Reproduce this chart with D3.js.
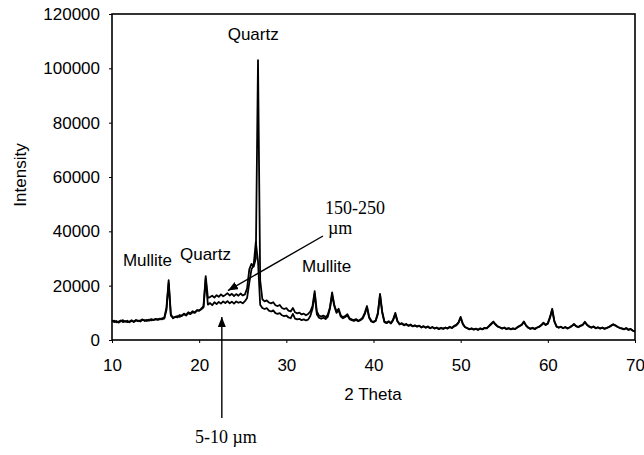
<!DOCTYPE html>
<html lang="en">
  <head>
    <meta charset="utf-8"/>
    <script src="https://cdn.jsdelivr.net/npm/d3@7"></script>
    <style>
      body { margin: 0; background: #fff; }
      .sans { font-family: "Liberation Sans", Arial, sans-serif; font-size: 17px; fill: #000; }
      .serif { font-family: "Liberation Serif", "Times New Roman", serif; font-size: 18px; fill: #000; }
      .axis path { display: none; }
      .axis line { stroke: #000; stroke-width: 1; }
      .axis text { font-family: "Liberation Sans", Arial, sans-serif; font-size: 17px; fill: #000; }
    </style>
  </head>
  <body>
    <script>
      // diffractogram, one value every 0.25 deg 2-theta from 10 to 70
      var thetaStart = 10;
      var thetaStep = 0.25;

      // 150-250 um particles (one row = one degree)
      var coarse = [
        7200, 6600, 7000, 6400,
        6900, 7300, 6700, 7100,
        6500, 7000, 6800, 7400,
        6900, 7200, 7600, 7000,
        7400, 7100, 7700, 7300,
        7800, 7400, 7900, 7600,
        8200, 12000, 22000, 9500,
        8000, 8600, 8300, 9200,
        8800, 9700, 9300, 10200,
        9800, 10600, 10200, 11000,
        10700, 11600, 12500, 23500,
        15500, 15800, 16300, 15600,
        16500, 15900, 16800, 16100,
        16600, 17200, 16400, 17000,
        16200, 16900, 16300, 17100,
        16400, 16800, 19000, 26000,
        28000, 27000, 30000, 103000,
        22000, 15000, 14200, 14600,
        13800, 13500, 13900, 12800,
        12500, 12900, 11800, 11400,
        11700, 10800, 10500, 11800,
        10200, 9800, 10100, 9400,
        9700, 9100, 9600, 10500,
        12500, 18000, 10500, 9000,
        8600, 9000, 8400, 9300,
        12000, 17500, 13000, 10500,
        11500, 9000, 8400, 8800,
        9500, 8000, 7600, 7300,
        7700, 7100, 7500, 8200,
        10000, 12500, 8500, 7000,
        6700, 7200, 10000, 17000,
        10500, 6800, 6400, 6900,
        6300, 7500, 10000, 7000,
        5900, 6200, 5600, 5900,
        5300, 5700, 5100, 5400,
        5000, 5300, 4700, 5100,
        4600, 5000, 4400, 4800,
        4300, 4600, 4100, 4500,
        4200, 4600, 4300, 4900,
        4500, 5200, 5600, 6500,
        8500, 6000, 4800, 4400,
        4000, 4300, 3900, 4200,
        3800, 4300, 4000, 4500,
        4400, 5200, 6000, 6800,
        5800, 5000, 4700, 4300,
        4600, 4100, 4400, 4000,
        4300, 4100, 4700, 5200,
        5600, 6800, 5400, 4600,
        4200, 4500, 4100, 4600,
        4900, 5500, 6400, 5600,
        6200, 8500, 11500, 7000,
        5000, 4600, 4900, 4400,
        4800, 4300, 4700, 5200,
        5900, 5100, 4800, 5300,
        5600, 6700, 5600, 5000,
        4600, 5000, 4400, 4700,
        4300, 4600, 4200, 4500,
        4800, 5300, 5800, 5400,
        4900, 4500, 4300, 4000,
        4400, 3800, 4100, 3500,
        3200
      ];

      // 5-10 um particles
      var fine = [
        6900, 7100, 6500, 6800,
        7200, 6600, 7000, 6600,
        6800, 7300, 6600, 7200,
        7100, 6800, 7400, 7300,
        7000, 7500, 7200, 7500,
        7500, 7700, 7600, 8000,
        7900, 11000, 21000, 9000,
        8200, 8400, 8800, 8500,
        9100, 9400, 9000, 9900,
        9500, 10300, 10000, 10800,
        11000, 11300, 12000, 22500,
        13000, 13600, 12800, 13900,
        13200, 14000, 13400, 14200,
        13600, 14300, 13500, 14100,
        13400, 14200, 13700, 14000,
        13500, 14300, 15500, 21000,
        26000, 27500, 36000, 29000,
        13000, 11800, 11400, 11700,
        10800, 10500, 10900, 9900,
        9600, 9900, 9100, 8800,
        9000, 8300, 8000, 9600,
        7900, 7600, 7800, 7300,
        7600, 7200, 7500, 8800,
        11500, 17000, 9500, 8200,
        7800, 8200, 7700, 8500,
        11500, 16500, 12500, 10000,
        11000, 8600, 8000, 8500,
        9000, 7700, 7300, 7000,
        7400, 6900, 7300, 7900,
        9500, 12000, 8200, 6800,
        6500, 7000, 9500, 16500,
        10000, 6600, 6200, 6700,
        6100, 7300, 9500, 6800,
        5700, 6000, 5400, 5800,
        5200, 5500, 5000, 5300,
        4900, 5200, 4600, 5000,
        4500, 4800, 4300, 4700,
        4200, 4500, 4000, 4400,
        4100, 4500, 4200, 4700,
        4400, 5000, 5400, 6300,
        8200, 5800, 4700, 4300,
        3900, 4200, 3800, 4100,
        3700, 4200, 3900, 4400,
        4300, 5000, 5800, 6600,
        5600, 4900, 4600, 4200,
        4500, 4000, 4300, 3900,
        4200, 4000, 4600, 5100,
        5500, 6600, 5300, 4500,
        4100, 4400, 4000, 4500,
        4800, 5400, 6200, 5500,
        6000, 8200, 11000, 6800,
        4900, 4500, 4800, 4300,
        4700, 4200, 4600, 5100,
        5700, 5000, 4700, 5200,
        5500, 6500, 5500, 4900,
        4500, 4900, 4300, 4600,
        4200, 4500, 4100, 4400,
        4700, 5200, 5700, 5300,
        4800, 4400, 4200, 3900,
        4300, 3700, 4000, 3400,
        3100
      ];

      var xTicks = [10, 20, 30, 40, 50, 60, 70];
      var yTicks = [0, 20000, 40000, 60000, 80000, 100000, 120000];

      var w = 644;
      var h = 455;
      var padLeft = 112, padRight = 635, padTop = 14, padBottom = 340;

      var svg = d3.select("body")
                  .append("svg")
                  .attr("width", w)
                  .attr("height", h);

      var xScale = d3.scaleLinear().domain([10, 70]).range([padLeft, padRight]);
      var yScale = d3.scaleLinear().domain([0, 120000]).range([padBottom, padTop]);

      // arrow head
      svg.append("defs")
         .append("marker")
         .attr("id", "head")
         .attr("viewBox", "0 0 10 8")
         .attr("refX", 10)
         .attr("refY", 4)
         .attr("markerWidth", 10)
         .attr("markerHeight", 8)
         .attr("markerUnits", "userSpaceOnUse")
         .attr("orient", "auto")
         .append("path")
         .attr("d", "M0,0L10,4L0,8Z")
         .attr("fill", "#000");

      // axes
      svg.append("g")
         .attr("class", "axis")
         .attr("transform", "translate(0," + padBottom + ")")
         .call(d3.axisBottom(xScale).tickValues(xTicks).tickSize(3).tickPadding(16));

      svg.append("g")
         .attr("class", "axis")
         .attr("transform", "translate(" + padLeft + ",0)")
         .call(d3.axisLeft(yScale).tickValues(yTicks).tickSize(3).tickPadding(9).tickFormat(d3.format("d")));

      // the traces
      var line = d3.line()
                   .x(function(d, i) { return xScale(thetaStart + i * thetaStep); })
                   .y(function(d) { return yScale(d); });

      [fine, coarse].forEach(function(series) {
        svg.append("path")
           .datum(series)
           .attr("d", line)
           .attr("fill", "none")
           .attr("stroke", "#000")
           .attr("stroke-width", 1.8)
           .attr("stroke-linejoin", "round");
      });

      // plot frame
      svg.append("rect")
         .attr("x", padLeft)
         .attr("y", padTop)
         .attr("width", padRight - padLeft)
         .attr("height", padBottom - padTop)
         .attr("fill", "none")
         .attr("stroke", "#000")
         .attr("stroke-width", 1.6);

      // axis titles
      svg.append("text")
         .attr("class", "sans")
         .attr("x", 373)
         .attr("y", 400)
         .attr("text-anchor", "middle")
         .text("2 Theta");

      svg.append("text")
         .attr("class", "sans")
         .attr("transform", "translate(26,175) rotate(-90)")
         .attr("text-anchor", "middle")
         .text("Intensity");

      // peak labels
      function label(theta, value, txt, anchor) {
        svg.append("text")
           .attr("class", "sans")
           .attr("x", xScale(theta))
           .attr("y", yScale(value))
           .attr("text-anchor", anchor)
           .text(txt);
      }
      label(26.2, 110400, "Quartz", "middle");
      label(11.25, 27200, "Mullite", "start");
      label(17.8, 29400, "Quartz", "start");
      label(31.8, 25000, "Mullite", "start");

      // sample labels with arrows
      svg.append("text")
         .attr("class", "serif")
         .attr("x", 325)
         .attr("y", 214)
         .text("150-250");
      svg.append("text")
         .attr("class", "serif")
         .attr("x", 328)
         .attr("y", 234)
         .text("\u00b5m");
      svg.append("line")
         .attr("x1", 323)
         .attr("y1", 236)
         .attr("x2", xScale(23.3))
         .attr("y2", yScale(18200))
         .attr("stroke", "#000")
         .attr("stroke-width", 1.4)
         .attr("marker-end", "url(#head)");

      svg.append("text")
         .attr("class", "serif")
         .attr("x", 195)
         .attr("y", 443)
         .text("5-10 \u00b5m");
      svg.append("line")
         .attr("x1", xScale(22.6))
         .attr("y1", 418)
         .attr("x2", xScale(22.6))
         .attr("y2", yScale(8500))
         .attr("stroke", "#000")
         .attr("stroke-width", 1.4)
         .attr("marker-end", "url(#head)");
    </script>
  </body>
</html>
